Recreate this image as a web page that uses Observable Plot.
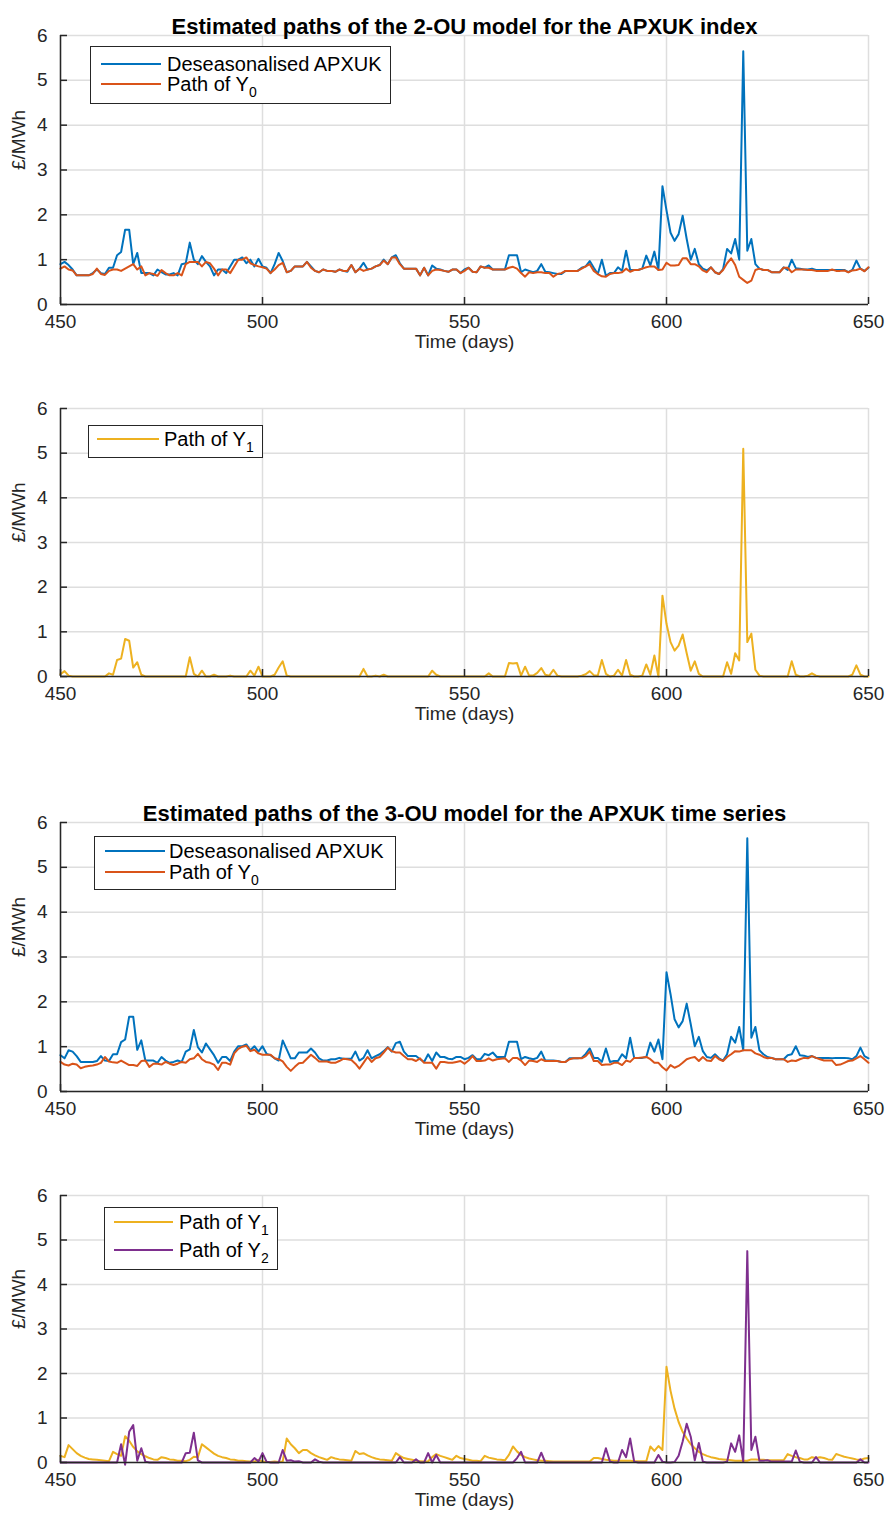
<!DOCTYPE html>
<html><head><meta charset="utf-8">
<script src="https://cdn.jsdelivr.net/npm/d3@7"></script>
<script src="https://cdn.jsdelivr.net/npm/@observablehq/plot@0.6"></script>
<style>
body{margin:0;background:#fff;}
#wrap{position:relative;width:889px;height:1515px;font-family:"Liberation Sans",Arial,Helvetica,sans-serif;color:#000;overflow:hidden;}
.panel{position:absolute;left:0;}
.legend{position:absolute;background:#fff;border:1px solid #262626;box-sizing:border-box;font-size:20px;color:#000;}
.legend .row{position:absolute;left:0;height:24px;display:flex;align-items:center;white-space:nowrap;}
.legend sub{font-size:14px;vertical-align:-6px;line-height:0;}
</style></head><body><div id="wrap"></div><script>
// ---- data ----
const days = d3.range(450, 651);
const xTicks = [450, 500, 550, 600, 650];
const yTicks = [0, 1, 2, 3, 4, 5, 6];

// 2-OU model: deseasonalised APXUK
const apx2 = [
0.9,0.95,0.88,0.78,0.65,0.65,0.65,0.65,0.7,0.78,
0.7,0.68,0.82,0.82,1.1,1.17,1.67,1.67,0.9,1.15,
0.7,0.7,0.7,0.65,0.78,0.72,0.67,0.67,0.7,0.65,
0.9,0.92,1.38,1.0,0.9,1.08,0.95,0.85,0.65,0.78,
0.78,0.7,0.85,1.0,1.0,1.05,0.92,1.0,0.85,1.02,
0.85,0.82,0.7,0.9,1.15,0.97,0.72,0.75,0.85,0.85,
0.85,0.95,0.85,0.75,0.72,0.78,0.75,0.75,0.73,0.78,
0.75,0.73,0.88,0.72,0.8,0.93,0.78,0.8,0.85,0.88,
1.0,0.9,1.05,1.1,0.92,0.8,0.8,0.8,0.8,0.65,
0.82,0.65,0.87,0.8,0.78,0.75,0.73,0.78,0.78,0.7,
0.78,0.82,0.73,0.72,0.85,0.82,0.87,0.78,0.78,0.78,
0.78,1.1,1.1,1.1,0.72,0.78,0.75,0.72,0.75,0.9,
0.73,0.72,0.7,0.68,0.68,0.75,0.75,0.75,0.75,0.82,
0.85,0.97,0.82,0.68,1.0,0.64,0.7,0.7,0.83,0.75,
1.2,0.77,0.77,0.77,0.8,1.09,0.87,1.18,0.77,2.64,
2.1,1.6,1.42,1.57,1.98,1.46,1.0,1.24,0.9,0.8,
0.76,0.83,0.72,0.68,0.79,1.24,1.14,1.46,1.0,5.65,
1.2,1.46,0.9,0.8,0.77,0.77,0.72,0.72,0.72,0.83,
0.77,1.0,0.81,0.8,0.78,0.78,0.8,0.77,0.77,0.77,
0.77,0.77,0.77,0.77,0.77,0.72,0.77,0.98,0.8,0.75,
0.82];
// 2-OU model: path of Y0
const y0of2 = [
0.8,0.85,0.78,0.76,0.65,0.65,0.65,0.65,0.68,0.8,
0.68,0.66,0.75,0.78,0.78,0.75,0.8,0.85,0.9,0.78,
0.85,0.65,0.7,0.68,0.64,0.77,0.7,0.65,0.65,0.7,
0.65,0.9,0.95,0.95,0.95,0.85,0.95,0.92,0.8,0.65,
0.78,0.78,0.7,0.85,1.0,1.0,1.05,0.92,0.88,0.85,
0.83,0.8,0.7,0.78,0.88,0.93,0.72,0.75,0.85,0.85,
0.85,0.95,0.82,0.75,0.72,0.78,0.75,0.75,0.73,0.78,
0.75,0.75,0.88,0.72,0.8,0.75,0.78,0.8,0.85,0.88,
0.98,0.9,1.05,1.05,0.9,0.8,0.8,0.8,0.8,0.65,
0.82,0.65,0.75,0.78,0.77,0.75,0.73,0.78,0.78,0.7,
0.75,0.82,0.73,0.72,0.85,0.82,0.82,0.78,0.78,0.78,
0.78,0.82,0.84,0.8,0.7,0.62,0.72,0.7,0.72,0.72,
0.7,0.7,0.62,0.68,0.7,0.75,0.75,0.75,0.75,0.8,
0.85,0.9,0.75,0.68,0.63,0.62,0.68,0.7,0.7,0.72,
0.8,0.73,0.77,0.77,0.8,0.83,0.85,0.85,0.77,0.78,
0.93,0.87,0.87,0.88,1.03,1.03,0.9,0.9,0.85,0.76,
0.72,0.83,0.72,0.68,0.77,0.92,1.03,0.88,0.62,0.55,
0.48,0.53,0.77,0.8,0.77,0.77,0.72,0.72,0.72,0.82,
0.82,0.72,0.78,0.78,0.78,0.77,0.77,0.75,0.75,0.75,
0.75,0.78,0.75,0.75,0.76,0.72,0.76,0.77,0.8,0.74,
0.83];
// 2-OU model: path of Y1
const y1of2 = [
0.05,0.12,0.02,0,0,0,0,0,0,0,
0,0,0.07,0.04,0.37,0.4,0.84,0.8,0.2,0.32,
0.04,0,0,0,0,0,0,0,0,0,
0,0,0.43,0.06,0,0.13,0,0,0.04,0,
0,0,0.02,0,0,0,0,0.13,0.02,0.22,
0,0,0,0.04,0.2,0.34,0.02,0,0,0,
0,0,0,0,0,0,0,0,0,0,
0,0,0,0,0,0.17,0,0,0.02,0,
0.04,0,0,0,0,0,0,0,0,0,
0,0,0.13,0.04,0,0,0,0,0,0,
0,0,0,0,0,0,0.07,0,0,0,
0,0.3,0.29,0.3,0.02,0.22,0.02,0.02,0.08,0.19,
0.04,0.02,0.15,0.02,0,0,0,0,0,0.02,
0.05,0.12,0.03,0.02,0.37,0.06,0,0.02,0.15,0.02,
0.37,0.04,0,0,0.02,0.27,0.04,0.47,0,1.81,
1.18,0.77,0.58,0.69,0.94,0.52,0.13,0.34,0.06,0,
0,0,0,0,0,0.32,0.06,0.52,0.36,5.1,
0.77,0.96,0.15,0.02,0,0,0,0,0,0,
0,0.34,0.04,0,0,0.02,0.07,0.02,0,0,
0,0,0,0,0,0,0.04,0.25,0.04,0,
0];
// 3-OU model: deseasonalised APXUK
const apx3 = [
0.81,0.74,0.92,0.89,0.79,0.66,0.66,0.66,0.66,0.68,
0.79,0.69,0.68,0.83,0.83,1.1,1.16,1.67,1.67,0.93,
1.14,0.69,0.69,0.69,0.64,0.77,0.69,0.64,0.66,0.69,
0.66,0.89,0.94,1.37,0.99,0.87,1.07,0.94,0.81,0.64,
0.77,0.77,0.68,0.89,1.01,1.01,1.05,0.92,1.01,0.89,
1.01,0.84,0.81,0.74,0.69,1.14,0.94,0.74,0.74,0.87,
0.87,0.87,0.96,0.87,0.74,0.69,0.69,0.72,0.72,0.75,
0.73,0.73,0.73,0.89,0.69,0.75,0.92,0.74,0.79,0.83,
0.9,0.99,0.89,1.08,1.11,0.89,0.79,0.79,0.79,0.72,
0.66,0.83,0.68,0.87,0.77,0.77,0.73,0.72,0.77,0.77,
0.72,0.75,0.81,0.72,0.72,0.84,0.81,0.87,0.77,0.77,
0.77,1.11,1.11,1.11,0.72,0.77,0.74,0.72,0.75,0.89,
0.69,0.69,0.69,0.68,0.66,0.66,0.74,0.74,0.74,0.75,
0.84,0.96,0.75,0.75,0.66,0.96,0.66,0.68,0.68,0.83,
0.74,1.2,0.75,0.75,0.75,0.77,1.09,0.89,1.16,0.72,
2.66,2.17,1.61,1.43,1.57,1.96,1.5,1.01,1.22,0.9,
0.77,0.75,0.83,0.74,0.69,0.83,1.22,1.09,1.44,0.92,
5.65,1.2,1.44,0.92,0.83,0.77,0.75,0.72,0.72,0.72,
0.81,0.83,1.01,0.81,0.8,0.77,0.79,0.75,0.75,0.75,
0.75,0.74,0.75,0.75,0.75,0.74,0.72,0.79,0.98,0.79,
0.74];
// 3-OU model: path of Y0
const y0of3 = [
0.66,0.6,0.58,0.62,0.6,0.52,0.55,0.57,0.58,0.6,
0.64,0.77,0.67,0.65,0.64,0.69,0.64,0.59,0.59,0.57,
0.68,0.69,0.55,0.62,0.62,0.6,0.66,0.62,0.59,0.62,
0.66,0.64,0.72,0.74,0.84,0.72,0.66,0.64,0.6,0.48,
0.64,0.64,0.6,0.85,0.95,1.0,1.02,0.9,0.93,0.85,
0.82,0.82,0.82,0.74,0.72,0.67,0.55,0.46,0.55,0.63,
0.64,0.73,0.82,0.75,0.67,0.67,0.67,0.64,0.64,0.68,
0.73,0.72,0.7,0.62,0.51,0.64,0.77,0.66,0.74,0.77,
0.87,0.98,0.9,0.87,0.87,0.79,0.72,0.72,0.68,0.74,
0.64,0.64,0.64,0.51,0.66,0.66,0.64,0.64,0.66,0.68,
0.62,0.69,0.79,0.68,0.68,0.69,0.74,0.69,0.72,0.73,
0.74,0.66,0.75,0.75,0.69,0.59,0.69,0.68,0.66,0.72,
0.68,0.68,0.68,0.68,0.66,0.66,0.72,0.74,0.74,0.74,
0.79,0.89,0.68,0.68,0.59,0.6,0.6,0.64,0.64,0.59,
0.69,0.66,0.75,0.75,0.76,0.77,0.72,0.64,0.64,0.54,
0.47,0.59,0.53,0.57,0.64,0.72,0.75,0.77,0.68,0.77,
0.69,0.68,0.79,0.72,0.68,0.77,0.83,0.9,0.89,0.92,
0.92,0.92,0.85,0.82,0.77,0.74,0.75,0.72,0.72,0.72,
0.66,0.69,0.68,0.72,0.75,0.74,0.79,0.75,0.72,0.69,
0.69,0.69,0.59,0.6,0.64,0.68,0.69,0.74,0.79,0.72,
0.64];
// 3-OU model: path of Y1
const y1of3 = [
0.15,0.12,0.39,0.3,0.21,0.15,0.11,0.08,0.07,0.06,
0.05,0.04,0.03,0.24,0.19,0.15,0.59,0.49,0.35,0.25,
0.19,0.14,0.1,0.07,0.06,0.12,0.1,0.07,0.06,0.04,
0.04,0.03,0.06,0.13,0.12,0.41,0.34,0.27,0.2,0.15,
0.12,0.1,0.07,0.06,0.04,0.04,0.03,0.02,0.02,0.06,
0.02,0.01,0.01,0.02,0.01,0.02,0.54,0.41,0.32,0.21,
0.28,0.28,0.21,0.16,0.12,0.09,0.06,0.12,0.09,0.07,
0.06,0.05,0.04,0.26,0.19,0.21,0.16,0.12,0.09,0.07,
0.06,0.05,0.04,0.21,0.15,0.1,0.08,0.06,0.04,0.03,
0.02,0.03,0.12,0.19,0.15,0.12,0.09,0.06,0.15,0.1,
0.08,0.06,0.04,0.04,0.03,0.15,0.11,0.09,0.07,0.06,
0.05,0.17,0.36,0.25,0.17,0.12,0.09,0.07,0.05,0.04,
0.04,0.03,0.02,0.02,0.02,0.02,0.02,0.02,0.02,0.02,
0.02,0.02,0.1,0.1,0.08,0.06,0.05,0.04,0.04,0.04,
0.04,0.04,0.03,0.03,0.03,0.03,0.36,0.26,0.37,0.28,
2.15,1.61,1.21,0.91,0.69,0.54,0.41,0.32,0.24,0.19,
0.15,0.12,0.1,0.08,0.07,0.06,0.05,0.04,0.04,0.04,
0.04,0.07,0.07,0.06,0.06,0.05,0.05,0.05,0.05,0.05,
0.19,0.15,0.12,0.1,0.07,0.07,0.12,0.1,0.12,0.1,
0.07,0.06,0.19,0.16,0.13,0.11,0.09,0.07,0.06,0.09,
0.1];
// 3-OU model: path of Y2
const y2of3 = [
0,0,0,0,0,0,0,0,0,0,
0,0,0,0,0,0.41,-0.05,0.69,0.84,0.04,
0.32,0.02,0,0,0,0,0,0,0,0,
0,0.21,0.22,0.67,0.05,0,0,0,0,0,
0,0,0,0,0,0,0,0,0.1,0.02,
0.21,0.02,0,0,0,0.28,0.04,0.05,0.02,0.03,
0,0,0,0.07,0.02,0,0,0,0,0,
0,0,0,0,0,0,0,0,0,0,
0,0,0,0,0.12,0,0,0,0.07,0,
0,0.21,0,0.17,0,0,0,0,0,0,
0,0,0,0,0,0,0,0,0,0,
0,0,0,0.1,0.24,0,0,0,0,0.22,
0,0,0,0,0,0,0,0,0,0,
0,0,0,0,0,0.32,0.02,0,0,0.28,
0.12,0.54,0.02,0,0,0,0,0,0.17,0.02,
0,0,0.01,0.15,0.47,0.87,0.58,0.05,0.44,0.02,
0,0,0,0,0,0.02,0.43,0.24,0.61,0.02,
4.75,0.28,0.58,0.04,0.04,0.05,0.02,0.02,0.02,0.02,
0.02,0.02,0.27,0.02,0,0,0,0.12,0,0,
0,0,0,0,0,0,0,0,0.07,0,
0];

const titles = ["Estimated paths of the 2-OU model for the APXUK index",
                "Estimated paths of the 3-OU model for the APXUK time series"];
const xLabel = "Time (days)";
const yLabel = "£/MWh";
const colors = {blue: "#0072BD", orange: "#D95319", yellow: "#EDB120", purple: "#7E2F8E"};

// ---- layout ----
const FONT = '"Liberation Sans", Arial, Helvetica, sans-serif';
const wrap = document.getElementById("wrap");

function panel({top, marginTop, plotH, marginBottom, series, title}) {
  const marks = [
    Plot.gridX(xTicks, {stroke: "#dedede", strokeOpacity: 1, strokeWidth: 1.5}),
    Plot.gridY(yTicks, {stroke: "#dedede", strokeOpacity: 1, strokeWidth: 1.5}),
    ...series.map(s => Plot.line(days, {x: days, y: s.values, stroke: s.color, strokeWidth: 2})),
    Plot.ruleX([450], {stroke: "#262626", strokeWidth: 1.5}),
    Plot.ruleY([0], {stroke: "#262626", strokeWidth: 1.5}),
    Plot.axisX(xTicks, {label: null, tickSize: -7, tickPadding: 17, fontSize: 19, fill: "#262626", stroke: "#262626", strokeWidth: 1.5}),
    Plot.axisY(yTicks, {label: null, tickSize: -7, tickPadding: 20, fontSize: 19, fill: "#262626", stroke: "#262626", strokeWidth: 1.5}),
    Plot.text([xLabel], {frameAnchor: "bottom", dy: 43, fontSize: 19, fill: "#262626"}),
    Plot.text([yLabel], {frameAnchor: "left", dx: -42, rotate: -90, fontSize: 19, fill: "#262626"})
  ];
  if (title) marks.push(Plot.text([title], {frameAnchor: "top", dy: -17, fontSize: 22, fontWeight: "bold", fill: "#000"}));
  const p = Plot.plot({
    width: 889, height: marginTop + plotH + marginBottom,
    marginLeft: 60, marginRight: 21, marginTop, marginBottom,
    x: {domain: [450, 650]},
    y: {domain: [0, 6]},
    style: {fontFamily: FONT, fontSize: "19px", background: "transparent", overflow: "visible"},
    marks
  });
  p.classList.add("panel");
  p.style.top = top + "px";
  wrap.appendChild(p);
}

function legend({left, top, w, h, entries, lineX0, lineX1, textX}) {
  const d = document.createElement("div");
  d.className = "legend";
  Object.assign(d.style, {left: left + "px", top: top + "px", width: w + "px", height: h + "px"});
  for (const e of entries) {
    const r = document.createElement("div");
    r.className = "row";
    r.style.top = (e.cy - 12) + "px";
    r.innerHTML = `<svg width="${textX}" height="24" style="flex:none"><line x1="${lineX0}" x2="${lineX1}" y1="12" y2="12" stroke="${e.color}" stroke-width="2"/></svg><span></span>`;
    r.querySelector("span").innerHTML = e.label;
    d.appendChild(r);
  }
  wrap.appendChild(d);
}

panel({top: 0, marginTop: 35, plotH: 269, marginBottom: 54, title: titles[0],
  series: [{values: apx2, color: colors.blue}, {values: y0of2, color: colors.orange}]});
panel({top: 380, marginTop: 28, plotH: 268, marginBottom: 54,
  series: [{values: y1of2, color: colors.yellow}]});
panel({top: 780, marginTop: 42, plotH: 269, marginBottom: 54, title: titles[1],
  series: [{values: apx3, color: colors.blue}, {values: y0of3, color: colors.orange}]});
panel({top: 1160, marginTop: 35, plotH: 267, marginBottom: 53,
  series: [{values: y1of3, color: colors.yellow}, {values: y2of3, color: colors.purple}]});

legend({left: 90, top: 46, w: 301, h: 58, lineX0: 10, lineX1: 70, textX: 76,
  entries: [{label: "Deseasonalised APXUK", color: colors.blue, cy: 17},
            {label: "Path of Y<sub>0</sub>", color: colors.orange, cy: 37}]});
legend({left: 88, top: 425, w: 175, h: 33, lineX0: 8, lineX1: 70, textX: 75,
  entries: [{label: "Path of Y<sub>1</sub>", color: colors.yellow, cy: 13}]});
legend({left: 94, top: 836, w: 302, h: 54, lineX0: 10, lineX1: 70, textX: 74,
  entries: [{label: "Deseasonalised APXUK", color: colors.blue, cy: 14},
            {label: "Path of Y<sub>0</sub>", color: colors.orange, cy: 35}]});
legend({left: 104, top: 1207, w: 174, h: 63, lineX0: 9, lineX1: 68, textX: 74,
  entries: [{label: "Path of Y<sub>1</sub>", color: colors.yellow, cy: 14},
            {label: "Path of Y<sub>2</sub>", color: colors.purple, cy: 42}]});
</script></body></html>
